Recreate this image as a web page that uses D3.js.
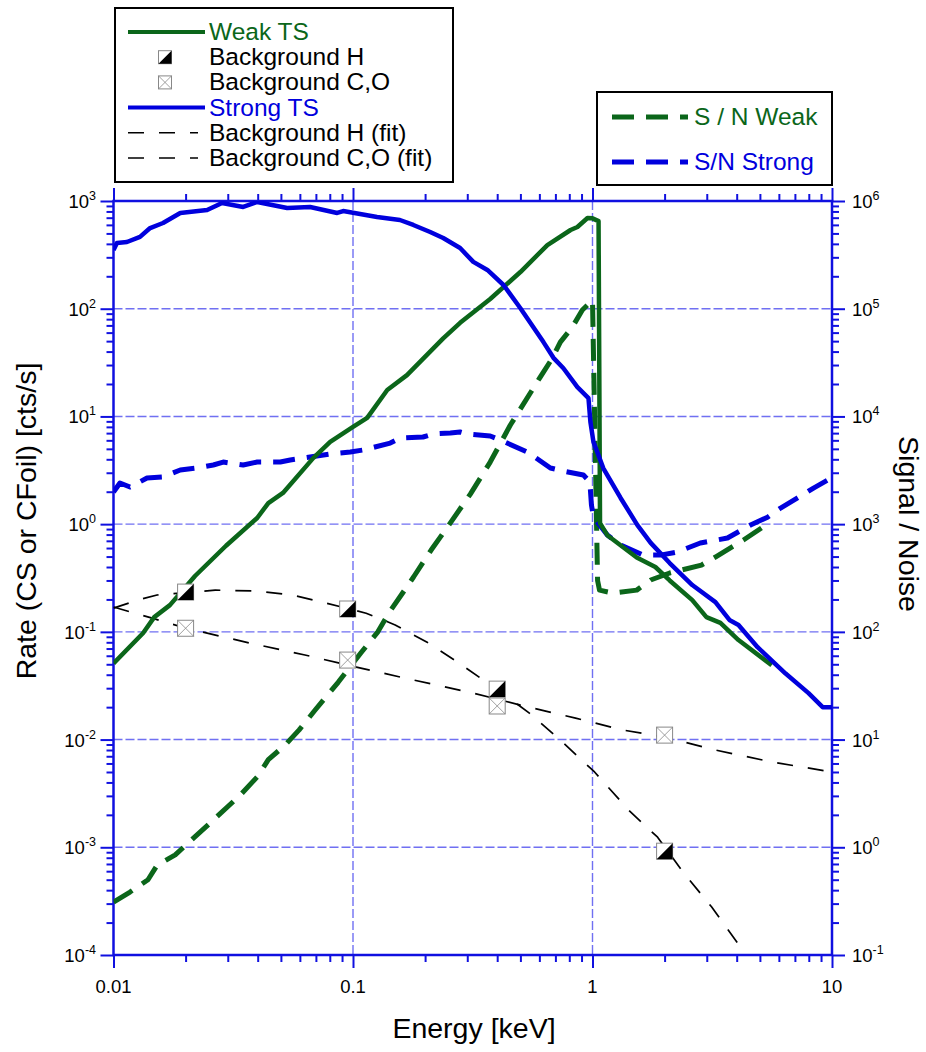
<!DOCTYPE html>
<html>
<head>
<meta charset="utf-8">
<script src="https://cdn.jsdelivr.net/npm/d3@7"></script>
<style>
  body { margin: 0; background: #fff; }
  text { font-family: "Liberation Sans", Arial, Helvetica, sans-serif; }
</style>
</head>
<body>
<div id="container"></div>
<script>
// Strong TS rate (left axis)
const strongE = [0.01, 0.01034, 0.01138, 0.0129, 0.01422, 0.0161, 0.019, 0.0246, 0.0284, 0.0348, 0.0398, 0.0531, 0.0662, 0.0859, 0.091, 0.126, 0.157, 0.1786, 0.21, 0.238, 0.28, 0.318, 0.364, 0.425, 0.5, 0.624, 0.687, 0.756, 0.865, 0.962, 0.98, 1.009, 1.11, 1.31, 1.54, 1.75, 2.1, 2.61, 3.26, 3.73, 4.07, 4.89, 6.4, 7.98, 9.14, 10];
const strongRate = [351, 408, 416, 464, 561, 625, 774, 825, 958, 880, 979, 861, 880, 774, 807, 710, 666, 599, 515, 453, 366, 272, 229, 166, 101, 49, 35, 28, 18.7, 14.8, 8.9, 5.8, 3.3, 1.75, 0.98, 0.67, 0.435, 0.272, 0.189, 0.129, 0.116, 0.072, 0.041, 0.027, 0.02, 0.02];

// Weak TS rate (left axis)
const weakE = [0.01, 0.0133, 0.0148, 0.0172, 0.0219, 0.0295, 0.0398, 0.0443, 0.051, 0.0682, 0.0803, 0.1, 0.1146, 0.139, 0.168, 0.238, 0.28, 0.374, 0.5, 0.648, 0.81, 0.865, 0.953, 1.0, 1.06, 1.075, 1.153, 1.53, 1.83, 2.1, 2.61, 2.99, 3.42, 4.07, 5.6];
const weakRate = [0.051, 0.0975, 0.137, 0.177, 0.33, 0.63, 1.14, 1.57, 1.95, 4.1, 5.8, 8.0, 9.7, 17.6, 24.2, 53, 74, 123, 219, 390, 538, 574, 695, 690, 650, 1.02, 0.79, 0.49, 0.4, 0.3, 0.197, 0.137, 0.121, 0.084, 0.049];

// Signal / Noise (right axis)
const snWeakE = [0.01, 0.01172, 0.01393, 0.0152, 0.0181, 0.0207, 0.0253, 0.0338, 0.0398, 0.0443, 0.0521, 0.0596, 0.0695, 0.0867, 0.108, 0.127, 0.142, 0.159, 0.179, 0.212, 0.248, 0.309, 0.374, 0.454, 0.55, 0.605, 0.68, 0.734, 0.824, 0.907, 1.0, 1.05, 1.07, 1.22, 1.53, 1.75, 2.1, 2.85, 3.26, 4.27, 5.53];
const snWeak = [0.31, 0.384, 0.5, 0.68, 0.85, 1.12, 1.68, 3.05, 4.5, 6.5, 8.9, 12.3, 18.8, 34, 64, 100, 153, 220, 323, 575, 940, 1900, 3770, 8320, 16500, 23200, 34800, 49000, 67600, 97300, 120000, 300, 244, 229, 244, 303, 352, 417, 495, 712, 1046];

const snStrongE = [0.01, 0.01064, 0.01172, 0.0138, 0.0161, 0.019, 0.0223, 0.0261, 0.0287, 0.0348, 0.0398, 0.0497, 0.0547, 0.0662, 0.0803, 0.0974, 0.1104, 0.143, 0.1575, 0.196, 0.216, 0.255, 0.28, 0.3, 0.374, 0.412, 0.535, 0.667, 0.756, 0.916, 0.975, 0.99, 1.01, 1.153, 1.31, 1.63, 1.92, 2.26, 2.82, 3.66, 4.57, 5.38, 6.1, 7.18, 8.37, 9.6];
const snStrong = [1990, 2410, 2210, 2680, 2740, 3180, 3320, 3540, 3770, 3540, 3770, 3770, 3940, 4200, 4480, 4670, 4880, 5660, 6300, 6440, 6870, 7020, 7170, 6870, 6580, 6040, 4670, 3320, 3110, 2860, 2460, 1500, 1160, 793, 640, 516, 516, 551, 668, 743, 982, 1160, 1410, 1750, 2160, 2570];

// Background measurements
const bgE = [0.02, 0.095, 0.4, 2.0];
const bgH = [0.234, 0.163, 0.0294, 0.00092];
const bgCO = [0.108, 0.0547, 0.0205, 0.011];

// Background fits
const fitHE = [0.01, 0.0126, 0.0152, 0.0266, 0.0398, 0.0557, 0.0773, 0.1135, 0.15, 0.204, 0.278, 0.4, 0.47, 0.545, 0.748, 1.02, 1.42, 1.87, 2.4, 3.14, 4.19];
const fitH = [0.166, 0.197, 0.22, 0.244, 0.239, 0.22, 0.185, 0.149, 0.116, 0.08, 0.051, 0.029, 0.0225, 0.0176, 0.0095, 0.005, 0.0022, 0.00124, 0.00058, 0.00028, 0.000115];
const fitCOE = [0.01, 0.0145, 0.0201, 0.0371, 0.063, 0.0955, 0.179, 0.318, 0.5, 0.85, 1.33, 2.02, 3.26, 5.6, 10];
const fitCO = [0.17, 0.134, 0.108, 0.0787, 0.061, 0.049, 0.0357, 0.027, 0.0209, 0.0158, 0.0123, 0.0105, 0.008, 0.0062, 0.005];

const xLabels = ["0.01", "0.1", "1", "10"];
const leftExp = [-4, -3, -2, -1, 0, 1, 2, 3];
const rightExp = [-1, 0, 1, 2, 3, 4, 5, 6];

const green = "#0b661a";
const blue = "#0000dd";
const axisBlue = "#1010e0";

const w = 926, h = 1052;
const plot = { left: 113.5, right: 832, top: 201, bottom: 955 };

const svg = d3.select("#container").append("svg")
  .attr("width", w).attr("height", h);

const x = d3.scaleLog().domain([0.01, 10]).range([plot.left, plot.right]);
const yL = d3.scaleLog().domain([1e-4, 1e3]).range([plot.bottom, plot.top]);
const yR = d3.scaleLog().domain([1e-1, 1e6]).range([plot.bottom, plot.top]);

function logTicks(lo, hi) {
  const minor = [], major = [];
  for (let d = lo; d <= hi; d++) {
    major.push(Math.pow(10, d));
    if (d < hi) for (let k = 2; k <= 9; k++) minor.push(k * Math.pow(10, d));
  }
  return { minor, major };
}
const xt = logTicks(-2, 1);
const ylt = logTicks(-4, 3);
const yrt = logTicks(-1, 6);

// grid
const grid = svg.append("g").attr("class", "grid");
grid.selectAll("line.gx").data(xt.major.slice(1, -1)).join("line")
  .attr("x1", d => x(d)).attr("x2", d => x(d))
  .attr("y1", plot.top).attr("y2", plot.bottom);
grid.selectAll("line.gy").data(ylt.major.slice(1, -1)).join("line")
  .attr("x1", plot.left).attr("x2", plot.right)
  .attr("y1", d => yL(d)).attr("y2", d => yL(d));
grid.selectAll("line")
  .attr("stroke", "#4d4df0").attr("stroke-width", 1.4)
  .attr("stroke-dasharray", "9,3").attr("opacity", 0.8);

// axes (ticks outward on all four sides)
function styleAxis(g) {
  g.selectAll(".domain").remove();
  g.selectAll(".tick line").attr("stroke", axisBlue).attr("stroke-width", 2);
}
const axes = [
  [d3.axisBottom(x), `translate(0,${plot.bottom})`, xt],
  [d3.axisTop(x), `translate(0,${plot.top})`, xt],
  [d3.axisLeft(yL), `translate(${plot.left},0)`, ylt],
  [d3.axisRight(yR), `translate(${plot.right},0)`, yrt]
];
axes.forEach(([ax, tr, t]) => {
  svg.append("g").attr("transform", tr)
    .call(ax.tickValues(t.minor).tickSize(7).tickFormat(""))
    .call(styleAxis);
  svg.append("g").attr("transform", tr)
    .call(ax.tickValues(t.major).tickSize(13).tickFormat(""))
    .call(styleAxis);
});
svg.append("rect")
  .attr("x", plot.left).attr("y", plot.top)
  .attr("width", plot.right - plot.left).attr("height", plot.bottom - plot.top)
  .attr("fill", "none").attr("stroke", axisBlue).attr("stroke-width", 2.5);

// tick labels
svg.append("g").selectAll("text").data(xt.major).join("text")
  .attr("x", d => x(d)).attr("y", 993)
  .attr("text-anchor", "middle").attr("font-size", 18.5)
  .text((d, i) => xLabels[i]);

function powLabel(g) {
  g.append("tspan").text("10");
  g.append("tspan").attr("font-size", 12.5).attr("dy", -8).text(d => d);
}
svg.append("g").selectAll("text").data(leftExp).join("text")
  .attr("x", 96).attr("y", d => yL(Math.pow(10, d)) + 7)
  .attr("text-anchor", "end").attr("font-size", 18.5)
  .call(powLabel);
svg.append("g").selectAll("text").data(rightExp).join("text")
  .attr("x", 852).attr("y", d => yR(Math.pow(10, d)) + 7)
  .attr("font-size", 18.5)
  .call(powLabel);

// axis titles
svg.append("text").attr("x", 474).attr("y", 1038)
  .attr("text-anchor", "middle").attr("font-size", 28.5).text("Energy [keV]");
svg.append("text").attr("transform", "translate(36,521) rotate(-90)")
  .attr("text-anchor", "middle").attr("font-size", 28.5).text("Rate (CS or CFoil) [cts/s]");
svg.append("text").attr("transform", "translate(899,524) rotate(90)")
  .attr("text-anchor", "middle").attr("font-size", 28.5).text("Signal / Noise");

// curves
svg.append("clipPath").attr("id", "clip").append("rect")
  .attr("x", plot.left).attr("y", plot.top)
  .attr("width", plot.right - plot.left).attr("height", plot.bottom - plot.top);
const area = svg.append("g").attr("clip-path", "url(#clip)");

function drawLine(es, vs, yScale, color, width, dash) {
  const line = d3.line().x(d => x(d[0])).y(d => yScale(d[1]));
  area.append("path")
    .datum(es.map((e, i) => [e, vs[i]]))
    .attr("fill", "none").attr("stroke", color)
    .attr("stroke-width", width)
    .attr("stroke-linejoin", "round")
    .attr("stroke-dasharray", dash)
    .attr("d", line);
}
drawLine(fitHE, fitH, yL, "#000", 1.7, "16,15");
drawLine(fitCOE, fitCO, yL, "#000", 1.7, "16,15");
drawLine(snWeakE, snWeak, yR, green, 5, "22,12");
drawLine(snStrongE, snStrong, yR, blue, 5, "22,12");
drawLine(weakE, weakRate, yL, green, 4.5, null);
drawLine(strongE, strongRate, yL, blue, 4.5, null);

// markers
function markerH(g, s) {
  g.append("rect").attr("x", -s / 2).attr("y", -s / 2).attr("width", s).attr("height", s)
    .attr("fill", "#fff").attr("stroke", "#888").attr("stroke-width", 1);
  g.append("path").attr("d", `M${s / 2},${-s / 2}L${s / 2},${s / 2}L${-s / 2},${s / 2}Z`)
    .attr("fill", "#000");
}
function markerCO(g, s) {
  g.append("rect").attr("x", -s / 2).attr("y", -s / 2).attr("width", s).attr("height", s)
    .attr("fill", "#fff").attr("stroke", "#888").attr("stroke-width", 1);
  g.append("path").attr("d", `M${-s / 2},${-s / 2}L${s / 2},${s / 2}M${s / 2},${-s / 2}L${-s / 2},${s / 2}`)
    .attr("stroke", "#888").attr("stroke-width", 0.8);
}
bgE.forEach((e, i) => {
  markerH(area.append("g").attr("transform", `translate(${x(e)},${yL(bgH[i])})`), 16);
  markerCO(area.append("g").attr("transform", `translate(${x(e)},${yL(bgCO[i])})`), 16);
});

// legend 1
const lg1 = svg.append("g");
lg1.append("rect").attr("x", 115).attr("y", 8).attr("width", 338).attr("height", 174)
  .attr("fill", "#fff").attr("stroke", "#000").attr("stroke-width", 2);
const leg1 = [
  { label: "Weak TS", color: green, kind: "solid" },
  { label: "Background H", color: "#000", kind: "H" },
  { label: "Background C,O", color: "#000", kind: "CO" },
  { label: "Strong TS", color: blue, kind: "solid" },
  { label: "Background H (fit)", color: "#000", kind: "fit" },
  { label: "Background C,O (fit)", color: "#000", kind: "fit" }
];
leg1.forEach((d, i) => {
  const yy = 32 + i * 25.2;
  if (d.kind === "solid") {
    lg1.append("line").attr("x1", 128).attr("x2", 205).attr("y1", yy).attr("y2", yy)
      .attr("stroke", d.color).attr("stroke-width", 4);
  } else if (d.kind === "fit") {
    lg1.append("line").attr("x1", 128).attr("x2", 198).attr("y1", yy).attr("y2", yy)
      .attr("stroke", "#000").attr("stroke-width", 1.6).attr("stroke-dasharray", "16,15");
  } else if (d.kind === "H") {
    markerH(lg1.append("g").attr("transform", `translate(165,${yy})`), 13);
  } else {
    markerCO(lg1.append("g").attr("transform", `translate(165,${yy})`), 13);
  }
  lg1.append("text").attr("x", 209).attr("y", yy + 8)
    .attr("font-size", 24.5).attr("fill", d.color).text(d.label);
});

// legend 2
const lg2 = svg.append("g");
lg2.append("rect").attr("x", 597).attr("y", 92).attr("width", 235).attr("height", 93)
  .attr("fill", "#fff").attr("stroke", "#000").attr("stroke-width", 2);
[{ label: "S / N Weak", color: green, y: 117 }, { label: "S/N Strong", color: blue, y: 162 }]
  .forEach(d => {
    lg2.append("line").attr("x1", 612).attr("x2", 688).attr("y1", d.y).attr("y2", d.y)
      .attr("stroke", d.color).attr("stroke-width", 5).attr("stroke-dasharray", "22,12");
    lg2.append("text").attr("x", 694).attr("y", d.y + 8)
      .attr("font-size", 24.5).attr("fill", d.color).text(d.label);
  });
</script>
</body>
</html>
